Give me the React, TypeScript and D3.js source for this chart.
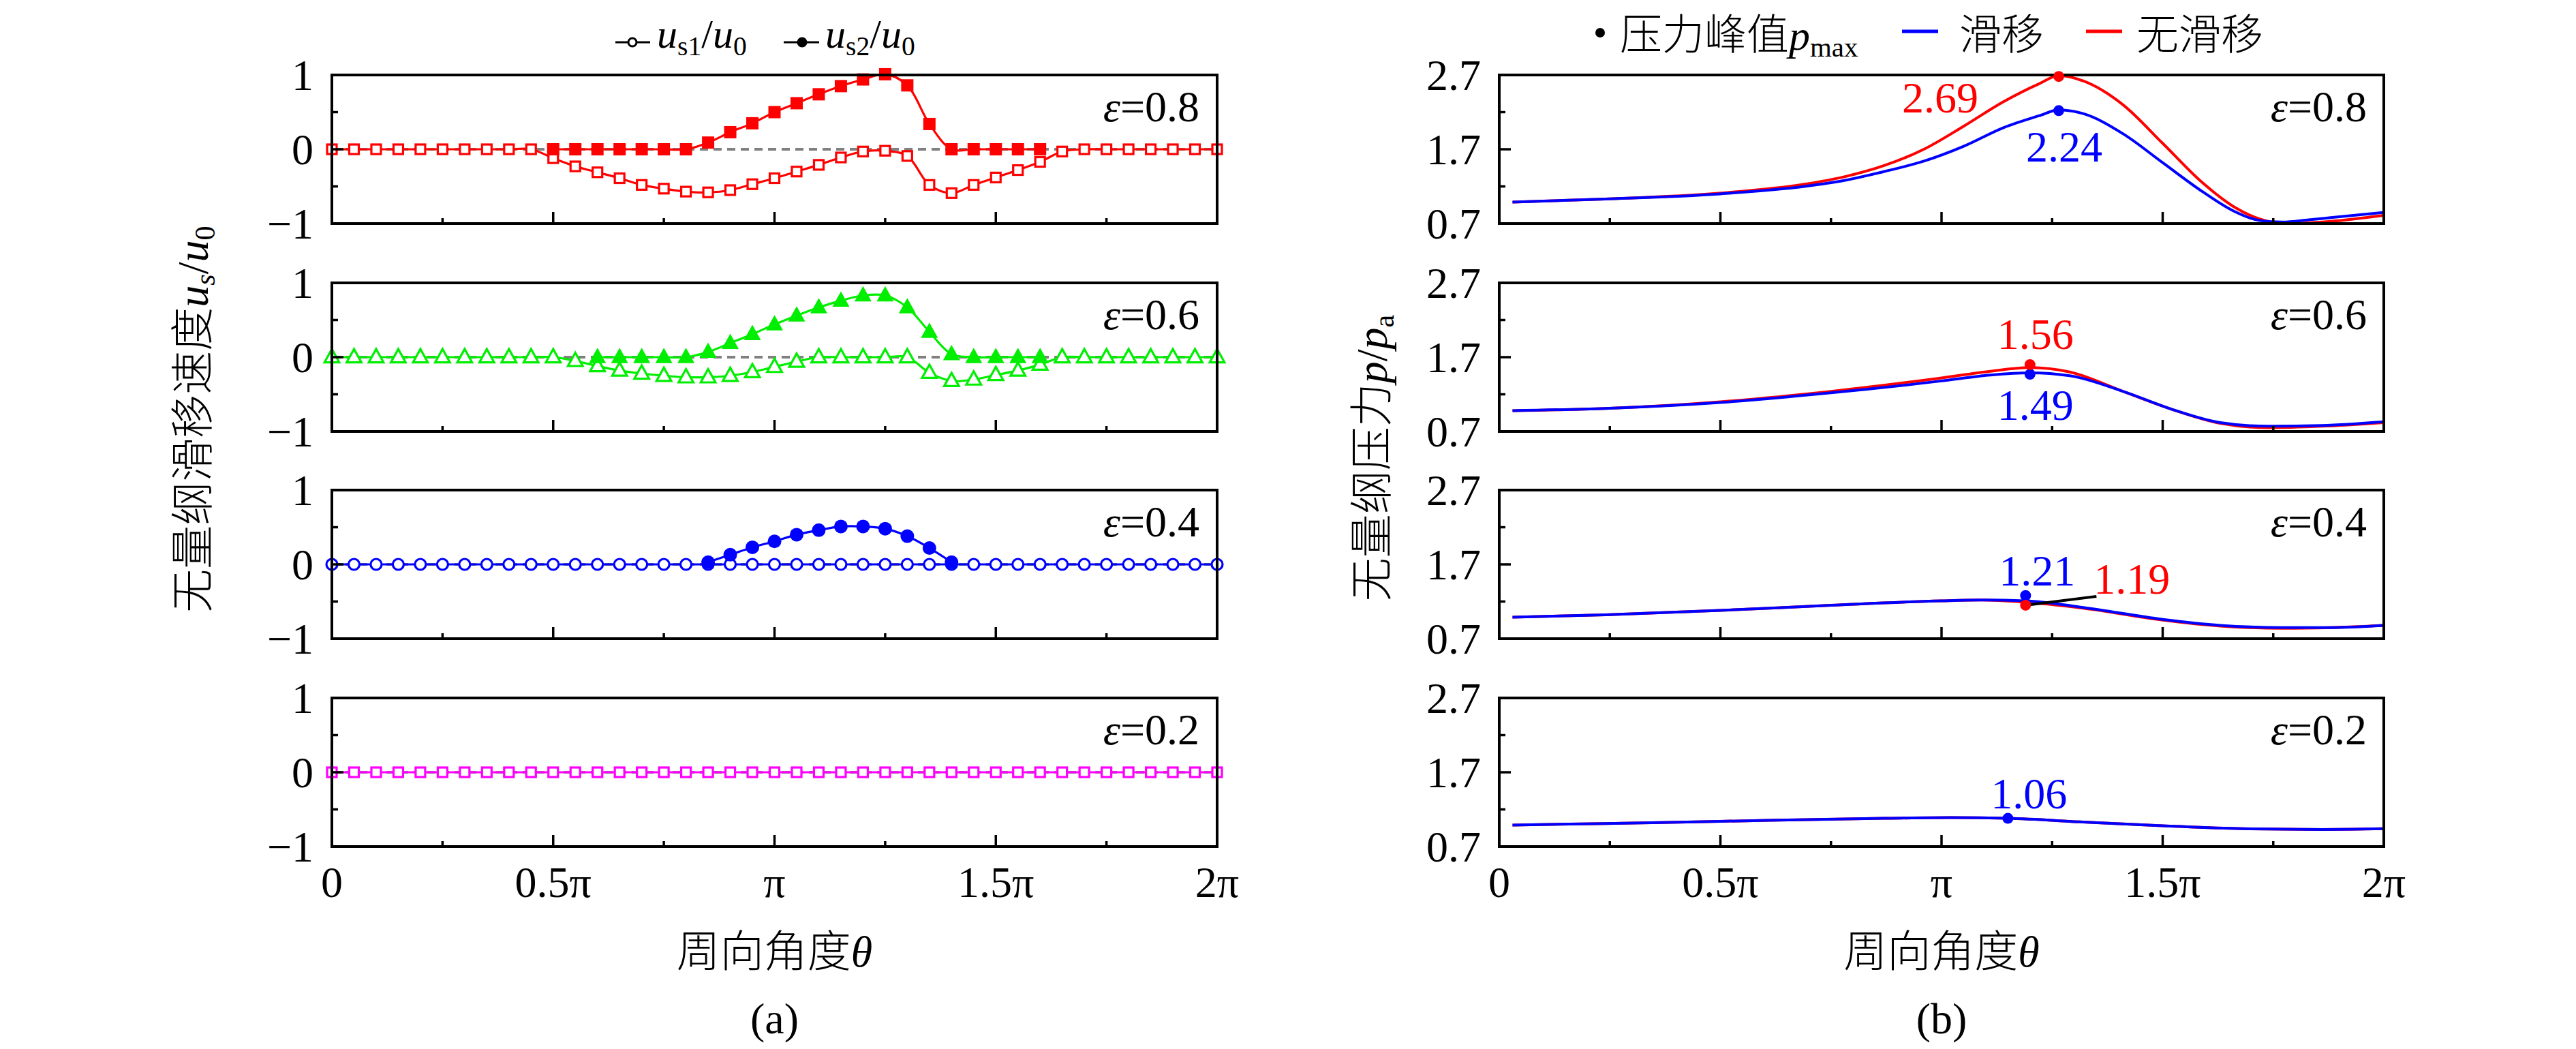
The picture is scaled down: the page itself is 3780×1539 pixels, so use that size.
import * as d3 from 'd3';
import React from 'react';

// (a) slip velocity, sampled every 0.05π (values in units of π)
const thetaA = [0, 0.05, 0.1, 0.15, 0.2, 0.25, 0.3, 0.35, 0.4, 0.45, 0.5, 0.55, 0.6, 0.65, 0.7, 0.75, 0.8, 0.85, 0.9, 0.95, 1,
  1.05, 1.1, 1.15, 1.2, 1.25, 1.3, 1.35, 1.4, 1.45, 1.5, 1.55, 1.6, 1.65, 1.7, 1.75, 1.8, 1.85, 1.9, 1.95, 2];
const N = null;

const us1_08 = [0, 0, 0, 0, 0, 0, 0, 0, 0, 0, -0.12, -0.23, -0.31, -0.39, -0.48, -0.53, -0.57, -0.58, -0.55, -0.47, -0.39,
  -0.3, -0.21, -0.11, -0.03, -0.02, -0.09, -0.48, -0.59, -0.48, -0.38, -0.28, -0.17, -0.03, 0, 0, 0, 0, 0, 0, 0];
const us2_08 = [N, N, N, N, N, N, N, N, N, N, 0, 0, 0, 0, 0, 0, 0, 0.09, 0.23, 0.35, 0.5,
  0.62, 0.74, 0.85, 0.94, 1.01, 0.86, 0.34, 0, 0, 0, 0, 0, N, N, N, N, N, N, N, N];
const us1_06 = [0, 0, 0, 0, 0, 0, 0, 0, 0, 0, 0, -0.05, -0.12, -0.18, -0.22, -0.25, -0.27, -0.27, -0.25, -0.2, -0.13,
  -0.06, 0, 0, 0, 0, 0, -0.21, -0.32, -0.3, -0.24, -0.18, -0.1, 0, 0, 0, 0, 0, 0, 0, 0];
const us2_06 = [N, N, N, N, N, N, N, N, N, N, N, N, 0, 0, 0, 0, 0, 0.07, 0.19, 0.31, 0.44,
  0.56, 0.67, 0.76, 0.83, 0.83, 0.67, 0.34, 0.04, 0, 0, 0, 0, N, N, N, N, N, N, N, N];
const us1_04 = [0, 0, 0, 0, 0, 0, 0, 0, 0, 0, 0, 0, 0, 0, 0, 0, 0, 0, 0, 0, 0,
  0, 0, 0, 0, 0, 0, 0, 0, 0, 0, 0, 0, 0, 0, 0, 0, 0, 0, 0, 0];
const us2_04 = [N, N, N, N, N, N, N, N, N, N, N, N, N, N, N, N, N, 0.03, 0.13, 0.23, 0.31,
  0.4, 0.46, 0.51, 0.51, 0.48, 0.38, 0.22, 0.03, N, N, N, N, N, N, N, N, N, N, N, N];
const us1_02 = [0, 0, 0, 0, 0, 0, 0, 0, 0, 0, 0, 0, 0, 0, 0, 0, 0, 0, 0, 0, 0,
  0, 0, 0, 0, 0, 0, 0, 0, 0, 0, 0, 0, 0, 0, 0, 0, 0, 0, 0, 0];
const us2_02: (number | null)[] = [];

// (b) dimensionless pressure
const thetaB08 = [0.03, 0.24, 0.5, 0.69, 0.78, 0.87, 0.96, 1.05, 1.14, 1.22, 1.265, 1.32, 1.41, 1.5, 1.59, 1.66, 1.72, 1.77, 1.83, 1.88, 2];
const slip08 = [0.99, 1.03, 1.1, 1.2, 1.28, 1.4, 1.54, 1.74, 1.99, 2.15, 2.23, 2.18, 1.91, 1.52, 1.13, 0.87, 0.74, 0.72, 0.75, 0.78, 0.85];
const noslip08 = [0.99, 1.03, 1.11, 1.23, 1.33, 1.48, 1.7, 2.01, 2.34, 2.58, 2.69, 2.62, 2.3, 1.78, 1.25, 0.93, 0.76, 0.7, 0.71, 0.73, 0.81];
const thetaB06 = [0.03, 0.24, 0.5, 0.75, 1, 1.11, 1.2, 1.29, 1.41, 1.52, 1.63, 1.74, 1.86, 2];
const slip06 = [0.98, 1.01, 1.09, 1.22, 1.38, 1.46, 1.49, 1.45, 1.24, 1, 0.82, 0.77, 0.78, 0.83];
const noslip06 = [0.98, 1.01, 1.1, 1.24, 1.42, 1.51, 1.56, 1.5, 1.24, 1, 0.81, 0.75, 0.77, 0.82];
const thetaB04 = [0.03, 0.24, 0.5, 0.75, 1, 1.09, 1.19, 1.32, 1.5, 1.63, 1.77, 1.88, 2];
const slip04 = [0.99, 1.02, 1.08, 1.15, 1.21, 1.22, 1.21, 1.12, 0.96, 0.88, 0.85, 0.85, 0.88];
const noslip04 = [0.99, 1.02, 1.08, 1.15, 1.21, 1.22, 1.19, 1.11, 0.95, 0.87, 0.84, 0.85, 0.88];
const thetaB02 = [0.03, 0.24, 0.5, 0.87, 1.02, 1.15, 1.32, 1.5, 1.68, 1.86, 2];
const slip02 = [0.99, 1.01, 1.04, 1.08, 1.09, 1.08, 1.03, 0.98, 0.94, 0.93, 0.94];
const noslip02 = [0.99, 1.01, 1.04, 1.08, 1.09, 1.08, 1.03, 0.98, 0.94, 0.93, 0.94];

// peak markers p_max
const peakTheta = [1.265, 1.2, 1.19, 1.15];
const slipDot = [2.22, 1.47, 1.28, 1.08];
const noslipDot: (number | null)[] = [2.68, 1.6, 1.15, null];
const slipLabel = ['2.24', '1.49', '1.21', '1.06'];
const noslipLabel: (string | null)[] = ['2.69', '1.56', '1.19', null];

const epsLabels = ['0.8', '0.6', '0.4', '0.2'];
const xTicks = [0, 0.5, 1, 1.5, 2];
const xTickLabels = ['0', '0.5π', 'π', '1.5π', '2π'];
const xMinor = [0.25, 0.75, 1.25, 1.75];

// layout
const W = 3780;
const H = 1539;
const TOPS = [110, 415, 719, 1024];
const PH = 218;
const AX = [487, 1786];
const BX = [2200, 3498];
const FS = 64;
const SERIF = '"Liberation Serif", "Times New Roman", serif';
const CJK = '"Noto Sans CJK SC", sans-serif';

const colorsA = ['#ff0000', '#00ee00', '#0000ff', '#ff00ff'];
const shapesA = ['square', 'triangle', 'circle', 'square'];
const BLUE = '#0000ff';
const RED = '#ff0000';

// label offsets from the peak dot (px)
const slipOff = [[8, 75], [8, 67], [17, -15], [31, -15]];
const noslipOff = [[-174, 53], [8, -23], [156, -17], [0, 0]];

const Marker: React.FC<{ shape: string; x: number; y: number; color: string; filled: boolean }> = ({ shape, x, y, color, filled }) => {
  const fill = filled ? color : '#fff';
  const sw = filled ? 0 : 3.2;
  if (shape === 'square') {
    const s = filled ? 18 : 14;
    return <rect x={x - s / 2} y={y - s / 2} width={s} height={s} fill={fill} stroke={color} strokeWidth={sw} />;
  }
  if (shape === 'triangle') {
    const k = filled ? 1.25 : 1.08;
    const p = [[0, -11 * k], [10 * k, 7 * k], [-10 * k, 7 * k]].map(([a, b]) => `${x + a},${y + b}`).join(' ');
    return <polygon points={p} fill={fill} stroke={color} strokeWidth={sw} strokeLinejoin="miter" />;
  }
  return <circle cx={x} cy={y} r={filled ? 10 : 8} fill={fill} stroke={color} strokeWidth={sw} />;
};

const Frame: React.FC<{
  x0: number; x1: number; y: d3.ScaleLinear<number, number>; yMajor: number[]; yMinor: number[];
  yLabels: string[]; xLabels: boolean;
}> = ({ x0, x1, y, yMajor, yMinor, yLabels, xLabels }) => {
  const x = d3.scaleLinear().domain([0, 2]).range([x0, x1]);
  return (
    <g>
      {xTicks.map((t) => <line key={'xm' + t} x1={x(t)} x2={x(t)} y1={PH} y2={PH - 17} stroke="#000" strokeWidth={3.5} />)}
      {xMinor.map((t) => <line key={'xn' + t} x1={x(t)} x2={x(t)} y1={PH} y2={PH - 8} stroke="#000" strokeWidth={3.5} />)}
      {yMajor.map((t) => <line key={'ym' + t} x1={x0} x2={x0 + 17} y1={y(t)} y2={y(t)} stroke="#000" strokeWidth={3.5} />)}
      {yMinor.map((t) => <line key={'yn' + t} x1={x0} x2={x0 + 9} y1={y(t)} y2={y(t)} stroke="#000" strokeWidth={3.5} />)}
      <rect x={x0} y={0} width={x1 - x0} height={PH} fill="none" stroke="#000" strokeWidth={4} />
      {yMajor.map((t, i) => (
        <text key={'yl' + t} x={x0 - 27} y={y(t) + 22} textAnchor="end" fontFamily={SERIF} fontSize={FS}>{yLabels[i]}</text>
      ))}
      {xLabels && xTicks.map((t, i) => (
        <text key={'xl' + t} x={x(t)} y={PH + 74} textAnchor="middle" fontFamily={SERIF} fontSize={FS}>{xTickLabels[i]}</text>
      ))}
    </g>
  );
};

const EpsLabel: React.FC<{ x: number; v: string }> = ({ x, v }) => (
  <text x={x} y={68} textAnchor="end" fontFamily={SERIF} fontSize={FS}>
    <tspan fontStyle="italic">ε</tspan>={v}
  </text>
);

export default function App() {
  const xA = d3.scaleLinear().domain([0, 2]).range(AX);
  const xB = d3.scaleLinear().domain([0, 2]).range(BX);
  const yA = d3.scaleLinear().domain([-1, 1]).range([PH, 0]);
  const yB = d3.scaleLinear().domain([0.7, 2.7]).range([PH, 0]);

  const seriesA = [
    { open: us1_08, filled: us2_08 },
    { open: us1_06, filled: us2_06 },
    { open: us1_04, filled: us2_04 },
    { open: us1_02, filled: us2_02 },
  ];
  const seriesB = [
    { theta: thetaB08, slip: slip08, noslip: noslip08 },
    { theta: thetaB06, slip: slip06, noslip: noslip06 },
    { theta: thetaB04, slip: slip04, noslip: noslip04 },
    { theta: thetaB02, slip: slip02, noslip: noslip02 },
  ];

  const lineA = d3.line<number | null>()
    .defined((d) => d != null)
    .x((_, i) => xA(thetaA[i]))
    .y((d) => yA(d as number))
    .curve(d3.curveCatmullRom);

  const sub = FS * 0.66;
  const lfs = 60; // legend (a) font size
  const cfs = 62; // legend (b) font size

  return (
    <svg width={W} height={H} viewBox={`0 0 ${W} ${H}`}
      style={{ position: 'absolute', left: 0, top: 0, background: '#fff' }}>
      {/* legend (a) */}
      <g>
        <line x1={903} x2={954} y1={62} y2={62} stroke="#000" strokeWidth={3} />
        <circle cx={928} cy={62} r={6} fill="#fff" stroke="#000" strokeWidth={3} />
        <text x={964} y={70} fontFamily={SERIF} fontSize={lfs}>
          <tspan fontStyle="italic">u</tspan>
          <tspan fontSize={lfs * 0.66} dy={11}>s1</tspan>
          <tspan dy={-11}>/</tspan>
          <tspan fontStyle="italic">u</tspan>
          <tspan fontSize={lfs * 0.66} dy={11}>0</tspan>
        </text>
        <line x1={1150} x2={1202} y1={62} y2={62} stroke="#000" strokeWidth={3} />
        <circle cx={1177} cy={62} r={7.5} fill="#000" />
        <text x={1211} y={70} fontFamily={SERIF} fontSize={lfs}>
          <tspan fontStyle="italic">u</tspan>
          <tspan fontSize={lfs * 0.66} dy={11}>s2</tspan>
          <tspan dy={-11}>/</tspan>
          <tspan fontStyle="italic">u</tspan>
          <tspan fontSize={lfs * 0.66} dy={11}>0</tspan>
        </text>
      </g>

      {/* legend (b) */}
      <g>
        <circle cx={2348} cy={48} r={7} fill="#000" />
        <text x={2377} y={73} fontSize={cfs}>
          <tspan fontFamily={CJK} fontWeight={300}>压力峰值</tspan>
          <tspan fontFamily={SERIF} fontStyle="italic">p</tspan>
          <tspan fontFamily={SERIF} fontSize={cfs * 0.66} dy={10}>max</tspan>
        </text>
        <line x1={2791} x2={2844} y1={46} y2={46} stroke={BLUE} strokeWidth={5} />
        <text x={2875} y={73} fontSize={cfs} fontFamily={CJK} fontWeight={300}>滑移</text>
        <line x1={3061} x2={3114} y1={46} y2={46} stroke={RED} strokeWidth={5} />
        <text x={3135} y={73} fontSize={cfs} fontFamily={CJK} fontWeight={300}>无滑移</text>
      </g>

      {/* panels (a) */}
      {seriesA.map((s, k) => (
        <g key={'a' + k} transform={`translate(0,${TOPS[k]})`}>
          <line x1={AX[0]} x2={AX[1]} y1={yA(0)} y2={yA(0)} stroke="#808080" strokeWidth={4} strokeDasharray="12 8" />
          <path d={lineA(s.open) || ''} fill="none" stroke={colorsA[k]} strokeWidth={3.2} />
          {s.open.map((v, i) => v == null ? null : (
            <Marker key={'o' + i} shape={shapesA[k]} x={xA(thetaA[i])} y={yA(v)} color={colorsA[k]} filled={false} />
          ))}
          {s.filled.length > 0 && <path d={lineA(s.filled) || ''} fill="none" stroke={colorsA[k]} strokeWidth={3.2} />}
          {s.filled.map((v, i) => v == null ? null : (
            <Marker key={'f' + i} shape={shapesA[k]} x={xA(thetaA[i])} y={yA(v)} color={colorsA[k]} filled />
          ))}
          <Frame x0={AX[0]} x1={AX[1]} y={yA} yMajor={[-1, 0, 1]} yMinor={[-0.5, 0.5]} yLabels={['−1', '0', '1']} xLabels={k === 3} />
          <EpsLabel x={AX[1] - 26} v={epsLabels[k]} />
        </g>
      ))}

      {/* panels (b) */}
      {seriesB.map((s, k) => {
        const line = d3.line<number>()
          .x((_, i) => xB(s.theta[i]))
          .y((d) => yB(d))
          .curve(d3.curveMonotoneX);
        const px = xB(peakTheta[k]);
        const nd = noslipDot[k];
        const nl = noslipLabel[k];
        return (
          <g key={'b' + k} transform={`translate(0,${TOPS[k]})`}>
            <path d={line(s.noslip) || ''} fill="none" stroke={RED} strokeWidth={4} />
            <path d={line(s.slip) || ''} fill="none" stroke={BLUE} strokeWidth={4} />
            <Frame x0={BX[0]} x1={BX[1]} y={yB} yMajor={[0.7, 1.7, 2.7]} yMinor={[1.2, 2.2]} yLabels={['0.7', '1.7', '2.7']} xLabels={k === 3} />
            {k === 2 && nd != null && (
              <line x1={px} y1={yB(nd)} x2={px + noslipOff[k][0] - 52} y2={yB(nd) - 13} stroke="#000" strokeWidth={4} />
            )}
            <circle cx={px} cy={yB(slipDot[k])} r={8} fill={BLUE} />
            {nd != null && <circle cx={px} cy={yB(nd)} r={8} fill={RED} />}
            <text x={px + slipOff[k][0]} y={yB(slipDot[k]) + slipOff[k][1]} textAnchor="middle" fontFamily={SERIF} fontSize={FS} fill={BLUE}>{slipLabel[k]}</text>
            {nd != null && nl != null && (
              <text x={px + noslipOff[k][0]} y={yB(nd) + noslipOff[k][1]} textAnchor="middle" fontFamily={SERIF} fontSize={FS} fill={RED}>{nl}</text>
            )}
            <EpsLabel x={BX[1] - 25} v={epsLabels[k]} />
          </g>
        );
      })}

      {/* axis titles */}
      <text transform="translate(305,615) rotate(-90)" textAnchor="middle" fontSize={FS}>
        <tspan fontFamily={CJK} fontWeight={300}>无量纲滑移速度</tspan>
        <tspan fontFamily={SERIF} fontStyle="italic">u</tspan>
        <tspan fontFamily={SERIF} fontStyle="italic" fontSize={sub} dy={10}>s</tspan>
        <tspan fontFamily={SERIF} dy={-10}>/</tspan>
        <tspan fontFamily={SERIF} fontStyle="italic">u</tspan>
        <tspan fontFamily={SERIF} fontSize={sub} dy={10}>0</tspan>
      </text>
      <text transform="translate(2035,672) rotate(-90)" textAnchor="middle" fontSize={FS}>
        <tspan fontFamily={CJK} fontWeight={300}>无量纲压力</tspan>
        <tspan fontFamily={SERIF} fontStyle="italic">p</tspan>
        <tspan fontFamily={SERIF}>/</tspan>
        <tspan fontFamily={SERIF} fontStyle="italic">p</tspan>
        <tspan fontFamily={SERIF} fontSize={sub} dy={10}>a</tspan>
      </text>
      {[AX, BX].map((ax, i) => (
        <g key={'t' + i}>
          <text x={(ax[0] + ax[1]) / 2} y={1418} textAnchor="middle" fontSize={FS}>
            <tspan fontFamily={CJK} fontWeight={300}>周向角度</tspan>
            <tspan fontFamily={SERIF} fontStyle="italic">θ</tspan>
          </text>
          <text x={(ax[0] + ax[1]) / 2} y={1516} textAnchor="middle" fontFamily={SERIF} fontSize={FS}>{i === 0 ? '(a)' : '(b)'}</text>
        </g>
      ))}
    </svg>
  );
}
